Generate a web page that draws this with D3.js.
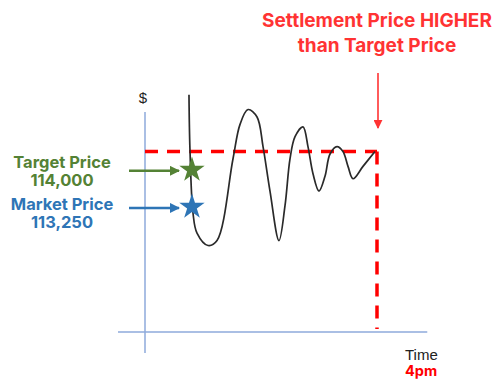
<!DOCTYPE html>
<html>
<head>
<meta charset="utf-8">
<script src="https://cdn.jsdelivr.net/npm/d3@7/dist/d3.min.js"></script>
<style>
  html, body { margin: 0; padding: 0; background: #fff; }
  svg { display: block; }
</style>
</head>
<body>
<svg id="chart" width="494" height="381"></svg>
<script>
// Intraday price path: minutes after 12:00 and price in $
const minutes = [45.5, 46.5, 49.7, 53.8, 65.2, 74.5, 91, 98.3, 106.6, 115.9, 122.1, 129.3, 138.6,
                 144.8, 150, 155.2, 163.4, 168.6, 173.8, 180, 186.2, 191.4, 198.6, 204.8, 210,
                 215.2, 225.5, 237.9];
const prices = [115500, 114400, 113100, 112700, 112450, 112550, 114200, 114900, 115200, 115050,
                114450, 113550, 112550, 113250, 114200, 114650, 114850, 114450, 113900, 113550,
                113850, 114300, 114450, 114350, 114050, 113800, 114050, 114350];

// Reference prices
const targetPrice = 114000;
const marketPrice = 113250;
const settlementPrice = 114350;
const entryMinute = 48.6;
const settleMinute = 240;   // 4pm

const targetLabel = ["Target Price", "114,000"];
const marketLabel = ["Market Price", "113,250"];
const titleLines = ["Settlement Price HIGHER", "than Target Price"];
const xAxisLabel = "Time";
const settleLabel = "4pm";
const yAxisLabel = "$";

const svg = d3.select("#chart");

const x = d3.scaleLinear().domain([0, 240]).range([145, 377]);
const y = d3.scaleLinear().domain([110700, 115150]).range([332, 112]);

const red = "#ff0000";
const green = "#548235";
const blue = "#2e75b6";
const axisColor = "#8eaadb";

// axes (plain crossing lines)
svg.append("line")
  .attr("x1", x(0)).attr("x2", x(0))
  .attr("y1", y(115150)).attr("y2", y(110700) + 21)
  .attr("stroke", axisColor).attr("stroke-width", 1.5);
svg.append("line")
  .attr("x1", x(0) - 27).attr("x2", x(292))
  .attr("y1", y(110700)).attr("y2", y(110700))
  .attr("stroke", axisColor).attr("stroke-width", 1.5);

svg.append("text")
  .attr("x", x(0) - 2).attr("y", 103)
  .attr("text-anchor", "middle")
  .attr("font-family", "Liberation Sans, Arial, sans-serif")
  .attr("font-size", 15)
  .attr("fill", "#222")
  .text(yAxisLabel);

// settlement price guide lines
svg.append("line")
  .attr("x1", x(0)).attr("x2", x(settleMinute))
  .attr("y1", y(settlementPrice)).attr("y2", y(settlementPrice))
  .attr("stroke", red).attr("stroke-width", 3.5)
  .attr("stroke-dasharray", "13,9");
svg.append("line")
  .attr("x1", x(settleMinute)).attr("x2", x(settleMinute))
  .attr("y1", y(settlementPrice)).attr("y2", y(110700) - 3)
  .attr("stroke", red).attr("stroke-width", 3.5)
  .attr("stroke-dasharray", "13,9");

// price path
const pts = minutes.map((m, i) => [m, prices[i]]);
const line = d3.line()
  .x(d => x(d[0])).y(d => y(d[1]))
  .curve(d3.curveCatmullRom.alpha(0.5));
svg.append("path")
  .attr("d", line(pts))
  .attr("fill", "none")
  .attr("stroke", "#2a2a2a")
  .attr("stroke-width", 1.7);

// arrow markers
const defs = svg.append("defs");
function marker(id, color, size) {
  defs.append("marker")
    .attr("id", id)
    .attr("viewBox", "0 0 10 10")
    .attr("refX", 9).attr("refY", 5)
    .attr("markerWidth", size).attr("markerHeight", size)
    .attr("markerUnits", "userSpaceOnUse")
    .attr("orient", "auto")
    .append("path")
    .attr("d", "M0,0 L10,5 L0,10 Z")
    .attr("fill", color);
}
marker("arrGreen", green, 10);
marker("arrBlue", blue, 10);
marker("arrRed", "#ff3333", 9);

// stars on the path
const star = d3.symbol().type(d3.symbolStar).size(200);
[[targetPrice, green, "arrGreen"], [marketPrice, blue, "arrBlue"]].forEach(([p, c, m]) => {
  svg.append("line")
    .attr("x1", 129).attr("x2", 179)
    .attr("y1", y(p) + 2).attr("y2", y(p) + 2)
    .attr("stroke", c).attr("stroke-width", 2.5)
    .attr("marker-end", `url(#${m})`);
  svg.append("path")
    .attr("d", star())
    .attr("transform", `translate(${x(entryMinute)},${y(p) + 1})`)
    .attr("fill", c);
});

// side labels
const labelFont = "Inter, 'Open Sans', sans-serif";
function label(lines, color, y0) {
  lines.forEach((t, i) => {
    svg.append("text")
      .attr("x", 62).attr("y", y0 + i * 18)
      .attr("text-anchor", "middle")
      .attr("font-family", labelFont)
      .attr("font-weight", 700)
      .attr("font-size", 16.5)
      .attr("fill", color)
      .text(t);
  });
}
label(targetLabel, green, 168);
label(marketLabel, blue, 210);

// title annotation
titleLines.forEach((t, i) => {
  svg.append("text")
    .attr("x", 377).attr("y", 27 + i * 25)
    .attr("text-anchor", "middle")
    .attr("font-family", labelFont)
    .attr("font-weight", 700)
    .attr("font-size", 19)
    .attr("fill", "#ff3333")
    .text(t);
});
svg.append("line")
  .attr("x1", x(settleMinute) + 1).attr("x2", x(settleMinute) + 1)
  .attr("y1", 73).attr("y2", 128)
  .attr("stroke", "#ff3333").attr("stroke-width", 1.6)
  .attr("marker-end", "url(#arrRed)");

// time axis labels
svg.append("text")
  .attr("x", 405).attr("y", 360)
  .attr("font-family", "Liberation Sans, Arial, sans-serif")
  .attr("font-size", 15)
  .attr("fill", "#222")
  .text(xAxisLabel);
svg.append("text")
  .attr("x", 405).attr("y", 376)
  .attr("font-family", labelFont)
  .attr("font-weight", 700)
  .attr("font-size", 14.5)
  .attr("fill", red)
  .text(settleLabel);
</script>
</body>
</html>
